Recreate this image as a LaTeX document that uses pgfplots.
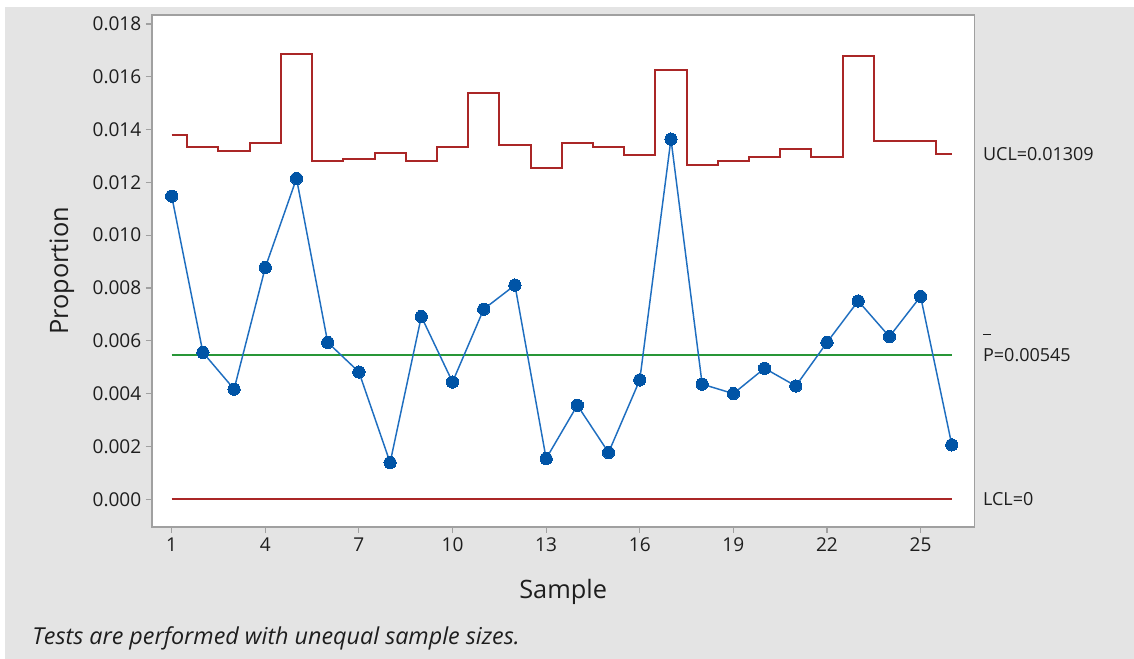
\documentclass[border=0pt]{standalone}
\usepackage{fontspec}
\setmainfont{Open Sans}
\usepackage{pgfplots}
\pgfplotsset{compat=1.18}
\definecolor{bggray}{RGB}{228,228,228}
\definecolor{framegray}{RGB}{160,160,160}
\definecolor{ucolor}{RGB}{170,38,38}
\definecolor{gcolor}{RGB}{40,150,55}
\definecolor{bline}{RGB}{30,110,192}
\definecolor{bmark}{RGB}{0,84,166}
\definecolor{txt}{RGB}{30,30,30}

\pgfplotstableread{
x p ucl
1 0.01148 0.01379
2 0.00556 0.01335
3 0.00417 0.01319
4 0.00878 0.01348
5 0.01215 0.01686
6 0.00594 0.01281
7 0.00482 0.01290
8 0.00139 0.01311
9 0.00692 0.01281
10 0.00444 0.01335
11 0.00720 0.01538
12 0.00811 0.01341
13 0.00154 0.01253
14 0.00356 0.01348
15 0.00177 0.01335
16 0.00452 0.01304
17 0.01364 0.01625
18 0.00436 0.01266
19 0.00400 0.01281
20 0.00496 0.01298
21 0.00429 0.01328
22 0.00594 0.01298
23 0.00751 0.01679
24 0.00616 0.01357
25 0.00768 0.01357
26 0.00206 0.01309
}\datatable

\begin{document}
\begin{tikzpicture}
\fill[white] (-114pt,-99pt) rectangle (736.5pt,395.25pt);
\fill[bggray] (-110.25pt,-99pt) rectangle (736.5pt,390pt);
\begin{axis}[
  at={(0pt,0pt)}, anchor=south west,
  scale only axis,
  width=616.7pt, height=384pt,
  xmin=0.369, xmax=26.72,
  ymin=-0.00105, ymax=0.01834,
  xtick={1,4,7,10,13,16,19,22,25},
  ytick={0,0.002,0.004,0.006,0.008,0.010,0.012,0.014,0.016,0.018},
  yticklabel style={/pgf/number format/.cd, fixed, fixed zerofill, precision=3, assume math mode=true},
  xticklabel style={/pgf/number format/assume math mode=true},
  scaled y ticks=false,
  tick align=outside,
  xtick pos=bottom, ytick pos=left,
  major tick length=4.5pt,
  every tick/.style={framegray, line width=0.8pt},
  axis line style={framegray, line width=1pt},
  axis background/.style={fill=white},
  ticklabel style={font=\fontsize{14.3}{16}\selectfont, text=txt},
  xlabel={Sample},
  label style={font=\fontsize{19}{22}\selectfont, text=txt},
  xlabel style={at={(rel axis cs:0.5,0)}, anchor=center, yshift=-48.75pt},
  clip=false,
]
\addplot[const plot mark mid, ucolor, line width=1.5pt, mark=none] table[x=x, y=ucl] {\datatable};
\addplot[ucolor, line width=1.5pt, mark=none] coordinates {(1,0) (26,0)};
\addplot[gcolor, line width=1.5pt, mark=none] coordinates {(1,0.00545) (26,0.00545)};
\addplot[bline, line width=1.1pt, mark=*, mark size=4.6pt, mark options={fill=bmark, draw=bmark, line width=0pt}] table[x=x, y=p] {\datatable};

\node[rotate=90, anchor=center, text=txt, font=\fontsize{19}{22}\selectfont] at ([xshift=-67.5pt]rel axis cs:0,0.5) {Proportion};
\node[anchor=west, text=txt, font=\fontsize{13.5}{15}\selectfont, inner sep=0pt, xshift=6.4pt] at (axis cs:26.72,0.01309) {UCL=0.01309};
\node[anchor=west, text=txt, font=\fontsize{13.5}{15}\selectfont, inner sep=0pt, xshift=6.4pt] at (axis cs:26.72,0.00545) {P=0.00545};
\node[anchor=west, inner sep=0pt, xshift=6.6pt] at (axis cs:26.72,0.00625) {\color{txt}\rule{5.5pt}{0.9pt}};
\node[anchor=west, text=txt, font=\fontsize{13.5}{15}\selectfont, inner sep=0pt, xshift=6.4pt] at (axis cs:26.72,0) {LCL=0};
\end{axis}
\node[anchor=west, inner sep=0pt, text=txt, font=\fontsize{17.5}{19}\selectfont\itshape] at (-90pt,-83.25pt) {Tests are performed with unequal sample sizes.};
\end{tikzpicture}
\end{document}
